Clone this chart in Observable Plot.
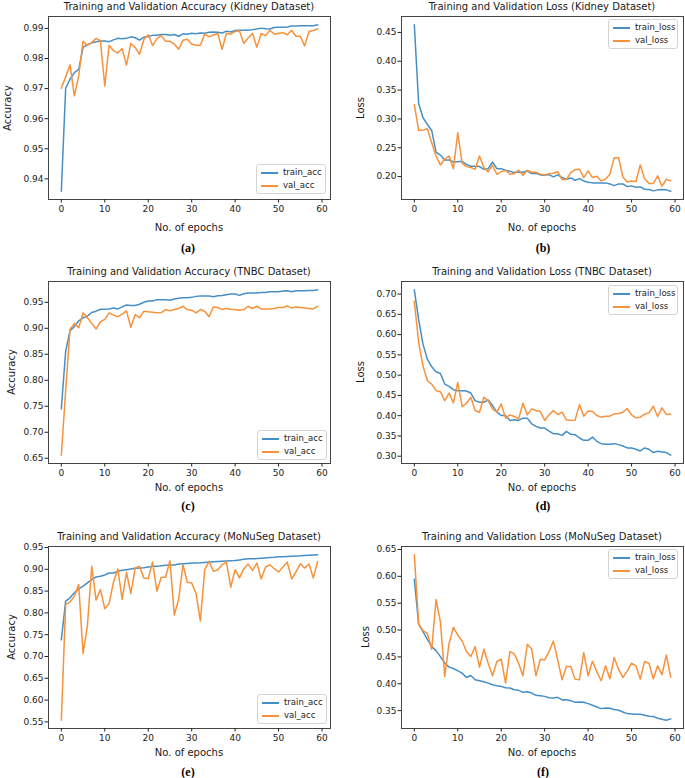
<!DOCTYPE html>
<html><head><meta charset="utf-8">
<script src="https://cdn.jsdelivr.net/npm/d3@7"></script>
<script src="https://cdn.jsdelivr.net/npm/@observablehq/plot@0.6"></script>
<style>
body{margin:0;background:#fff;font-family:"DejaVu Sans",sans-serif;}
#root{position:relative;width:685px;height:778px;overflow:hidden;background:#fff;}
.t{position:absolute;white-space:nowrap;line-height:1;color:#1a1a1a;transform:translate(-50%,-50%);}
.title{font-size:10px;}
.xl{font-size:10px;}
.yl{font-size:10px;transform:translate(-50%,-50%) rotate(-90deg);}
.cap{font-family:"Liberation Serif","Times New Roman",serif;font-weight:bold;font-size:12px;color:#000;}
.legend{position:absolute;width:70px;height:30px;box-sizing:border-box;border:1px solid #d4d4d4;border-radius:3px;background:rgba(255,255,255,0.85);font-size:8.5px;color:#1a1a1a;}
.row{position:absolute;left:0;width:100%;height:13px;line-height:13px;}
.sw{position:absolute;left:4px;top:6px;width:17px;height:2px;}
.lt{position:absolute;left:26px;top:0;}
</style></head>
<body><div id="root"></div>
<script>
// ---------- data ----------
const xTicks = [0, 10, 20, 30, 40, 50, 60];
const accNames = ["train_acc", "val_acc"];
const lossNames = ["train_loss", "val_loss"];

const kidneyAccTicks = [0.94, 0.95, 0.96, 0.97, 0.98, 0.99];
const kidneyLossTicks = [0.20, 0.25, 0.30, 0.35, 0.40, 0.45];
const tnbcAccTicks = [0.65, 0.70, 0.75, 0.80, 0.85, 0.90, 0.95];
const tnbcLossTicks = [0.30, 0.35, 0.40, 0.45, 0.50, 0.55, 0.60, 0.65, 0.70];
const monusegAccTicks = [0.55, 0.60, 0.65, 0.70, 0.75, 0.80, 0.85, 0.90, 0.95];
const monusegLossTicks = [0.35, 0.40, 0.45, 0.50, 0.55, 0.60, 0.65];

const kidneyTrainAcc = [0.9359,0.9701,0.9731,0.9753,0.9764,0.9837,0.9846,0.9852,0.9856,0.9858,
 0.9858,0.9856,0.9862,0.9867,0.9866,0.9867,0.9872,0.9869,0.9861,0.9871,
 0.9873,0.9877,0.9877,0.9880,0.9880,0.9877,0.9880,0.9874,0.9882,0.9881,
 0.9884,0.9882,0.9885,0.9884,0.9887,0.9888,0.9887,0.9885,0.9891,0.9888,
 0.9893,0.9894,0.9894,0.9894,0.9896,0.9898,0.9901,0.9899,0.9898,0.9903,
 0.9904,0.9904,0.9905,0.9908,0.9908,0.9909,0.9909,0.9909,0.9909,0.9912];
const kidneyValAcc = [0.9701,0.9739,0.9779,0.9676,0.9742,0.9857,0.9844,0.9853,0.9867,0.9859,
 0.9709,0.9844,0.9826,0.9818,0.9833,0.9778,0.9850,0.9837,0.9814,0.9864,
 0.9879,0.9843,0.9866,0.9876,0.9857,0.9857,0.9848,0.9831,0.9861,0.9864,
 0.9848,0.9844,0.9844,0.9881,0.9872,0.9878,0.9883,0.9831,0.9884,0.9881,
 0.9890,0.9892,0.9850,0.9868,0.9884,0.9837,0.9883,0.9876,0.9894,0.9881,
 0.9884,0.9886,0.9879,0.9894,0.9874,0.9874,0.9842,0.9890,0.9893,0.9899];
const kidneyTrainLoss = [0.4632,0.3262,0.3020,0.2904,0.2800,0.2426,0.2374,0.2288,0.2288,0.2253,
 0.2259,0.2265,0.2213,0.2179,0.2179,0.2173,0.2127,0.2138,0.2253,0.2138,
 0.2138,0.2110,0.2092,0.2069,0.2081,0.2075,0.2098,0.2052,0.2058,0.2029,
 0.2023,0.2035,0.1994,0.2029,0.1983,0.1954,0.1977,0.1937,0.1965,0.1925,
 0.1902,0.1891,0.1891,0.1891,0.1891,0.1873,0.1844,0.1873,0.1873,0.1827,
 0.1839,0.1816,0.1821,0.1781,0.1775,0.1752,0.1770,0.1775,0.1770,0.1747];
const kidneyValLoss = [0.3250,0.2800,0.2806,0.2830,0.2588,0.2357,0.2202,0.2305,0.2357,0.2138,
 0.2760,0.2230,0.2173,0.2156,0.2127,0.2357,0.2156,0.2086,0.2196,0.2040,
 0.2086,0.2110,0.2040,0.2052,0.2110,0.2023,0.2110,0.2075,0.2075,0.2040,
 0.2029,0.2052,0.2058,0.2086,0.1948,0.1948,0.2069,0.2121,0.2127,0.1983,
 0.2098,0.1983,0.2006,0.1925,0.1954,0.2040,0.2328,0.2328,0.1994,0.1908,
 0.1925,0.1914,0.2202,0.1965,0.1879,0.1879,0.2012,0.1833,0.1954,0.1925];

const tnbcTrainAcc = [0.7446,0.8555,0.8955,0.9031,0.9145,0.9202,0.9234,0.9303,0.9329,0.9367,
 0.9367,0.9373,0.9392,0.9373,0.9411,0.9449,0.9437,0.9437,0.9462,0.9500,
 0.9525,0.9525,0.9551,0.9551,0.9551,0.9538,0.9563,0.9580,0.9589,0.9589,
 0.9595,0.9614,0.9620,0.9620,0.9620,0.9608,0.9627,0.9633,0.9646,0.9659,
 0.9659,0.9633,0.9665,0.9678,0.9678,0.9678,0.9690,0.9690,0.9703,0.9703,
 0.9703,0.9716,0.9722,0.9703,0.9722,0.9722,0.9722,0.9728,0.9728,0.9741];
const tnbcValAcc = [0.6558,0.7800,0.8980,0.9094,0.9012,0.9297,0.9202,0.9094,0.8986,0.9126,
 0.9170,0.9297,0.9253,0.9221,0.9272,0.9335,0.9018,0.9265,0.9202,0.9329,
 0.9316,0.9310,0.9297,0.9303,0.9360,0.9335,0.9360,0.9380,0.9424,0.9360,
 0.9348,0.9297,0.9360,0.9329,0.9221,0.9411,0.9399,0.9360,0.9380,0.9367,
 0.9360,0.9348,0.9360,0.9424,0.9380,0.9424,0.9373,0.9373,0.9373,0.9380,
 0.9399,0.9399,0.9430,0.9392,0.9411,0.9399,0.9392,0.9380,0.9373,0.9424];
const tnbcTrainLoss = [0.7106,0.6371,0.5759,0.5392,0.5204,0.5082,0.5041,0.4780,0.4722,0.4641,
 0.4616,0.4616,0.4608,0.4559,0.4371,0.4331,0.4331,0.4388,0.4249,0.4086,
 0.4004,0.4004,0.3882,0.3898,0.3882,0.3939,0.3939,0.3800,0.3735,0.3694,
 0.3694,0.3620,0.3555,0.3555,0.3514,0.3612,0.3539,0.3530,0.3449,0.3392,
 0.3392,0.3473,0.3367,0.3310,0.3294,0.3294,0.3310,0.3286,0.3253,0.3204,
 0.3204,0.3171,0.3130,0.3204,0.3171,0.3090,0.3122,0.3106,0.3090,0.3024];
const tnbcValLoss = [0.6820,0.5800,0.5229,0.4861,0.4780,0.4616,0.4592,0.4371,0.4559,0.4314,
 0.4820,0.4224,0.4306,0.4453,0.4127,0.4086,0.4453,0.4371,0.4167,0.4086,
 0.4290,0.3939,0.4020,0.3980,0.3922,0.4306,0.4020,0.4167,0.4127,0.4102,
 0.3882,0.4020,0.4127,0.4029,0.4086,0.3898,0.3882,0.3890,0.4273,0.3988,
 0.4118,0.4102,0.4004,0.3963,0.3988,0.3988,0.4045,0.4053,0.4086,0.4176,
 0.4020,0.3947,0.3963,0.4037,0.4069,0.4233,0.3980,0.4192,0.4029,0.4037];

const monusegTrainAcc = [0.7382,0.8270,0.8346,0.8460,0.8551,0.8612,0.8688,0.8764,0.8825,0.8840,
 0.8870,0.8916,0.8916,0.8953,0.8976,0.8991,0.9007,0.9022,0.9029,0.9037,
 0.9052,0.9067,0.9067,0.9083,0.9090,0.9098,0.9098,0.9120,0.9128,0.9135,
 0.9143,0.9146,0.9150,0.9158,0.9166,0.9174,0.9180,0.9185,0.9190,0.9196,
 0.9204,0.9215,0.9228,0.9242,0.9242,0.9245,0.9252,0.9260,0.9268,0.9275,
 0.9287,0.9290,0.9295,0.9300,0.9305,0.9310,0.9318,0.9323,0.9328,0.9333];
const monusegValAcc = [0.5538,0.8195,0.8248,0.8384,0.8650,0.7071,0.7701,0.9067,0.8293,0.8536,
 0.8096,0.8217,0.8703,0.9007,0.8308,0.8931,0.8445,0.9029,0.9067,0.8802,
 0.8787,0.9166,0.8498,0.8817,0.8817,0.9196,0.7952,0.8308,0.9105,0.8703,
 0.8688,0.8445,0.7815,0.8991,0.9181,0.8953,0.8991,0.9105,0.9166,0.8589,
 0.8991,0.8802,0.9014,0.9120,0.8976,0.9143,0.8779,0.9052,0.9105,0.9014,
 0.8938,0.9052,0.9166,0.8779,0.8938,0.9128,0.9029,0.9120,0.8802,0.9181];
const monusegTrainLoss = [0.5944,0.5111,0.4969,0.4827,0.4691,0.4617,0.4506,0.4383,0.4309,0.4284,
 0.4241,0.4198,0.4117,0.4154,0.4074,0.4056,0.4037,0.4012,0.3981,0.3963,
 0.3951,0.3926,0.3920,0.3889,0.3877,0.3840,0.3852,0.3827,0.3784,0.3778,
 0.3765,0.3741,0.3735,0.3747,0.3698,0.3704,0.3685,0.3654,0.3660,0.3654,
 0.3630,0.3599,0.3568,0.3537,0.3549,0.3543,0.3519,0.3506,0.3475,0.3444,
 0.3438,0.3432,0.3432,0.3414,0.3395,0.3389,0.3358,0.3340,0.3321,0.3346];
const monusegValLoss = [0.6401,0.5111,0.4988,0.4938,0.4642,0.5568,0.5154,0.4136,0.4753,0.5049,
 0.4907,0.4796,0.4599,0.4506,0.4691,0.4309,0.4642,0.4383,0.4148,0.4414,
 0.4457,0.4012,0.4599,0.4556,0.4383,0.4148,0.4735,0.4648,0.4148,0.4457,
 0.4444,0.4599,0.4796,0.4444,0.4074,0.4321,0.4321,0.4086,0.4074,0.4580,
 0.4148,0.4420,0.4222,0.4056,0.4333,0.4093,0.4488,0.4272,0.4117,0.4235,
 0.4383,0.4333,0.4086,0.4414,0.4383,0.4093,0.4333,0.4167,0.4537,0.4124];

const epochs = d3.range(kidneyTrainAcc.length);

const panels = [
 {cap:"(a)", title:"Training and Validation Accuracy (Kidney Dataset)", ylabel:"Accuracy", train:kidneyTrainAcc, val:kidneyValAcc, names:accNames, yticks:kidneyAccTicks},
 {cap:"(b)", title:"Training and Validation Loss (Kidney Dataset)", ylabel:"Loss", train:kidneyTrainLoss, val:kidneyValLoss, names:lossNames, yticks:kidneyLossTicks},
 {cap:"(c)", title:"Training and Validation Accuracy (TNBC Dataset)", ylabel:"Accuracy", train:tnbcTrainAcc, val:tnbcValAcc, names:accNames, yticks:tnbcAccTicks},
 {cap:"(d)", title:"Training and Validation Loss (TNBC Dataset)", ylabel:"Loss", train:tnbcTrainLoss, val:tnbcValLoss, names:lossNames, yticks:tnbcLossTicks},
 {cap:"(e)", title:"Training and Validation Accuracy (MoNuSeg Dataset)", ylabel:"Accuracy", train:monusegTrainAcc, val:monusegValAcc, names:accNames, yticks:monusegAccTicks},
 {cap:"(f)", title:"Training and Validation Loss (MoNuSeg Dataset)", ylabel:"Loss", train:monusegTrainLoss, val:monusegValLoss, names:lossNames, yticks:monusegLossTicks}
];

// ---------- layout (styling only) ----------
const layout = [
 {left:0,   fTop:16,  fH:183, mL:48, mR:10, titleY:6.7,   xlY:227.7, ylX:7.5,   capX:188, capY:248, legL:256, legT:164},
 {left:345, fTop:16,  fH:183, mL:56, mR:2,  titleY:6.7,   xlY:227.7, ylX:361,   capX:543, capY:248, legL:608, legT:19},
 {left:0,   fTop:281, fH:182, mL:48, mR:10, titleY:271.7, xlY:487.7, ylX:11.7,  capX:188, capY:506, legL:257, legT:430},
 {left:345, fTop:281, fH:182, mL:56, mR:2,  titleY:271.7, xlY:487.7, ylX:361,   capX:543, capY:506, legL:608, legT:285},
 {left:0,   fTop:546, fH:182, mL:48, mR:10, titleY:536.7, xlY:753.3, ylX:12.3,  capX:188, capY:772, legL:257, legT:694},
 {left:345, fTop:546, fH:182, mL:56, mR:2,  titleY:536.7, xlY:753.3, ylX:365.7, capX:543, capY:772, legL:608, legT:549}
];
const BLUE = "#468fc6", ORANGE = "#f7923a";
const root = document.getElementById("root");
const mT = 6, mB = 22, W = 340;

function addText(cls, txt, x, y) {
  const d = document.createElement("div");
  d.className = "t " + cls;
  d.textContent = txt;
  d.style.left = x + "px";
  d.style.top = y + "px";
  root.appendChild(d);
}

panels.forEach((P, i) => {
  const L = layout[i];
  const all = P.train.concat(P.val);
  const lo = d3.min(all), hi = d3.max(all), pad = (hi - lo) * 0.05;
  const chart = Plot.plot({
    width: W, height: L.fH + mT + mB,
    marginLeft: L.mL, marginRight: L.mR, marginTop: mT, marginBottom: mB,
    x: {domain: [-2.95, 61.95]},
    y: {domain: [lo - pad, hi + pad]},
    style: {fontFamily: "DejaVu Sans", fontSize: "9px", color: "#222", background: "transparent", overflow: "visible"},
    marks: [
      Plot.line(epochs, {x: epochs, y: P.train, stroke: BLUE, strokeWidth: 1.5}),
      Plot.line(epochs, {x: epochs, y: P.val, stroke: ORANGE, strokeWidth: 1.5}),
      Plot.frame({stroke: "#444", strokeWidth: 1}),
      Plot.axisX({ticks: xTicks, tickSize: 3.5, tickPadding: 2.5, tickFormat: d3.format("d"), label: null}),
      Plot.axisY({ticks: P.yticks, tickSize: 3.5, tickPadding: 1.5, tickFormat: d3.format(".2f"), label: null})
    ]
  });
  chart.style.position = "absolute";
  chart.style.left = L.left + "px";
  chart.style.top = (L.fTop - mT) + "px";
  root.appendChild(chart);

  const cx = L.left + L.mL + (W - L.mL - L.mR) / 2;
  addText("title", P.title, cx, L.titleY);
  addText("xl", "No. of epochs", cx, L.xlY);
  addText("yl", P.ylabel, L.ylX, L.fTop + L.fH / 2);
  addText("cap", P.cap, L.capX, L.capY);

  const lg = document.createElement("div");
  lg.className = "legend";
  lg.style.left = L.legL + "px";
  lg.style.top = L.legT + "px";
  [[P.names[0], BLUE], [P.names[1], ORANGE]].forEach(([name, col], k) => {
    const r = document.createElement("div");
    r.className = "row";
    r.style.top = (1 + k * 13) + "px";
    const sw = document.createElement("span");
    sw.className = "sw"; sw.style.background = col;
    const tx = document.createElement("span");
    tx.className = "lt"; tx.textContent = name;
    r.appendChild(sw); r.appendChild(tx);
    lg.appendChild(r);
  });
  root.appendChild(lg);
});
</script>
</body></html>
